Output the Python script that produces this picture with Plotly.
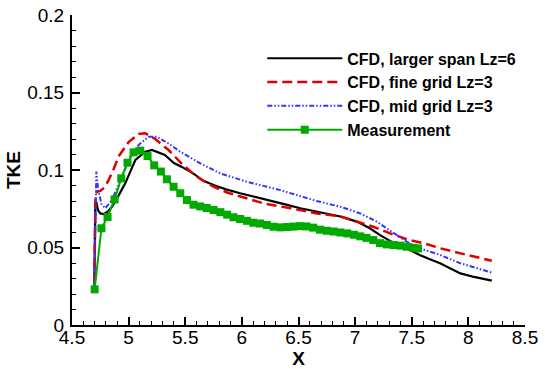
import plotly.graph_objects as go

# CFD, larger span Lz=6
x_lz6 = [4.697, 4.703, 4.706, 4.715, 4.73, 4.75, 4.78, 4.82, 4.853, 4.90, 4.97, 5.06,
         5.147, 5.206, 5.26, 5.32, 5.40, 5.47, 5.57, 5.66, 5.75, 5.86, 5.985, 6.13,
         6.28, 6.40, 6.516, 6.66, 6.87, 7.015, 7.13, 7.22, 7.32, 7.455, 7.57, 7.66,
         7.75, 7.93, 8.05, 8.207]
y_lz6 = [0.026, 0.055, 0.0785, 0.079, 0.074, 0.072, 0.0715, 0.0735, 0.0763, 0.082,
         0.0914, 0.1065, 0.1118, 0.1129, 0.1115, 0.1097, 0.1045, 0.102, 0.0978, 0.093,
         0.0903, 0.0875, 0.085, 0.0825, 0.0796, 0.0775, 0.0753, 0.0731, 0.070, 0.0667,
         0.0624, 0.058, 0.0538, 0.0495, 0.0452, 0.0424, 0.0398, 0.0333, 0.031, 0.0286]

# CFD, fine grid Lz=3
x_fine = [4.697, 4.703, 4.708, 4.72, 4.75, 4.79, 4.823, 4.87, 4.91, 5.0, 5.088, 5.147,
          5.235, 5.353, 5.47, 5.60, 5.75, 5.87, 5.985, 6.19, 6.43, 6.66, 6.87, 7.015,
          7.16, 7.31, 7.455, 7.63, 7.75, 7.93, 8.207]
y_fine = [0.027, 0.06, 0.084, 0.086, 0.0865, 0.089, 0.0935, 0.101, 0.1086, 0.118, 0.1232,
          0.1237, 0.120, 0.1129, 0.104, 0.0957, 0.0892, 0.0855, 0.0828, 0.0785, 0.0753,
          0.072, 0.070, 0.0667, 0.0634, 0.0591, 0.0553, 0.0523, 0.0495, 0.0462, 0.0415]

# CFD, mid grid Lz=3
x_mid = [4.697, 4.703, 4.708, 4.715, 4.73, 4.76, 4.794, 4.853, 4.94, 5.03, 5.10, 5.176,
         5.25, 5.353, 5.456, 5.632, 5.81, 6.04, 6.34, 6.66, 6.87, 7.045, 7.19, 7.34,
         7.455, 7.57, 7.66, 7.75, 7.93, 8.207]
y_mid = [0.025, 0.06, 0.09, 0.099, 0.088, 0.078, 0.0753, 0.0806, 0.0957, 0.111, 0.117,
         0.1215, 0.1215, 0.117, 0.1118, 0.1043, 0.0978, 0.0925, 0.087, 0.080, 0.0763,
         0.072, 0.0667, 0.0591, 0.0538, 0.0495, 0.0473, 0.0452, 0.0398, 0.0338]

# Measurement
x_meas = [4.70, 4.76, 4.814, 4.876, 4.935, 4.99, 5.044, 5.103, 5.167, 5.226, 5.285,
          5.338, 5.397, 5.456, 5.515, 5.573, 5.632, 5.69, 5.75, 5.81, 5.87, 5.926,
          5.985, 6.045, 6.10, 6.16, 6.22, 6.28, 6.34, 6.40, 6.455, 6.515, 6.57, 6.63,
          6.69, 6.75, 6.81, 6.87, 6.93, 6.99, 7.045, 7.10, 7.16, 7.22, 7.28, 7.34,
          7.40, 7.455, 7.515, 7.555]
y_meas = [0.023, 0.0624, 0.0697, 0.081, 0.0946, 0.1047, 0.1114, 0.1125, 0.109, 0.103,
          0.099, 0.094, 0.0892, 0.085, 0.0806, 0.0776, 0.0765, 0.0755, 0.0742, 0.0728,
          0.0712, 0.0695, 0.0684, 0.0672, 0.066, 0.0655, 0.0645, 0.0634, 0.063, 0.0632,
          0.0635, 0.0638, 0.0636, 0.0628, 0.0615, 0.0608, 0.0603, 0.0597, 0.0591,
          0.0582, 0.0572, 0.0562, 0.0548, 0.0528, 0.052, 0.0516, 0.0512, 0.0505,
          0.0498, 0.0494]

FONT = "Liberation Sans, Arial, Helvetica, sans-serif"

fig = go.Figure()
fig.add_trace(go.Scatter(x=x_lz6, y=y_lz6, mode="lines", name="CFD, larger span Lz=6",
                         line=dict(color="black", width=2.2)))
fig.add_trace(go.Scatter(x=x_fine, y=y_fine, mode="lines", name="CFD, fine grid Lz=3",
                         line=dict(color="#dd0000", width=2.5, dash="10px,5px")))
fig.add_trace(go.Scatter(x=x_mid, y=y_mid, mode="lines", name="CFD, mid grid Lz=3",
                         line=dict(color="#3333ff", width=2,
                                   dash="5px,2px,1.5px,2px,1.5px,2px")))
fig.add_trace(go.Scatter(x=x_meas, y=y_meas, mode="lines+markers", name="Measurement",
                         line=dict(color="#00aa00", width=2),
                         marker=dict(symbol="square", size=8, color="#00aa00")))

axis_common = dict(showline=True, linecolor="black", linewidth=2, mirror=False,
                   showgrid=False, zeroline=False, ticks="inside", ticklen=8,
                   tickwidth=1.5, tickcolor="black", automargin=False,
                   ticklabeloverflow="allow",
                   tickfont=dict(family=FONT, size=19, color="black"))

fig.update_layout(
    width=545, height=369,
    margin=dict(l=72, r=20, t=15, b=44),
    paper_bgcolor="white", plot_bgcolor="white",
    font=dict(family=FONT, color="black"),
    xaxis=dict(range=[4.5, 8.5], dtick=0.5, tick0=4.5, ticklabelstandoff=-6,
               title=dict(text="X", font=dict(size=19, weight="bold"), standoff=2),
               minor=dict(ticks="inside", dtick=0.1, ticklen=4, tickwidth=1,
                          tickcolor="black"),
               **axis_common),
    yaxis=dict(range=[0, 0.2], dtick=0.05, tick0=0, ticklabelstandoff=2,
               title=dict(text="TKE", font=dict(size=19, weight="bold"), standoff=2),
               minor=dict(ticks="inside", dtick=0.01, ticklen=4, tickwidth=1,
                          tickcolor="black"),
               **axis_common),
    legend=dict(x=0.42, y=0.915, xanchor="left", yanchor="top",
                bgcolor="rgba(0,0,0,0)", itemwidth=75,
                font=dict(family=FONT, size=16, weight="bold", color="black"),
                tracegroupgap=0),
    showlegend=True,
)

# drop the browser's default 8px body margin so the figure fills the window
fig.write_html("out.html", config={"displayModeBar": False},
               post_script="document.body.style.margin = '0';")
